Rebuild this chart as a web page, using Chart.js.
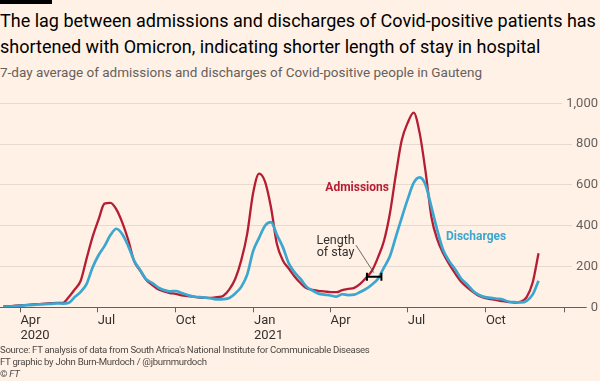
<!DOCTYPE html>
<html>
<head>
<meta charset="utf-8">
<script src="https://cdn.jsdelivr.net/npm/chart.js@4.4.1/dist/chart.umd.min.js"></script>
<style>
  html, body { margin: 0; padding: 0; background: #fff1e5; }
  body { width: 600px; height: 381px; position: relative; overflow: hidden; font-family: Roboto, sans-serif; }
  #bar { position: absolute; left: 0; top: 0; width: 52px; height: 4px; background: #000; }
  #title { position: absolute; left: 0; top: 8px; font-size: 18px; line-height: 26px; color: #000; white-space: nowrap; }
  #subtitle { position: absolute; left: 0; top: 64px; font-size: 13.5px; line-height: 16px; color: #66605c; white-space: nowrap; }
  #source { position: absolute; left: 0; top: 344px; font-size: 9.6px; letter-spacing: -0.3px; line-height: 12px; color: #4d4845; white-space: nowrap; }
  #chart { position: absolute; left: 0; top: 0; }
</style>
</head>
<body>
<div id="bar"></div>
<div id="title">The lag between admissions and discharges of Covid-positive patients has<br>shortened with Omicron, indicating shorter length of stay in hospital</div>
<div id="subtitle">7-day average of admissions and discharges of Covid-positive people in Gauteng</div>
<canvas id="chart" width="600" height="381"></canvas>
<div id="source">Source: FT analysis of data from South Africa's National Institute for Communicable Diseases<br>FT graphic by John Burn-Murdoch / @jburnmurdoch<br>© <i>FT</i></div>

<script>
// weekly readings
const weeks = [
  "2020-03-12","2020-03-19","2020-03-26","2020-04-02","2020-04-09","2020-04-16","2020-04-23","2020-04-30",
  "2020-05-07","2020-05-14","2020-05-21","2020-05-28","2020-06-04","2020-06-11","2020-06-18","2020-06-25",
  "2020-07-02","2020-07-09","2020-07-16","2020-07-23","2020-07-30","2020-08-06","2020-08-13","2020-08-20",
  "2020-08-27","2020-09-03","2020-09-10","2020-09-17","2020-09-24","2020-10-01","2020-10-08","2020-10-15",
  "2020-10-22","2020-10-29","2020-11-05","2020-11-12","2020-11-19","2020-11-26","2020-12-03","2020-12-10",
  "2020-12-17","2020-12-24","2020-12-31","2021-01-07","2021-01-14","2021-01-21","2021-01-28","2021-02-04",
  "2021-02-11","2021-02-18","2021-02-25","2021-03-04","2021-03-11","2021-03-18","2021-03-25","2021-04-01",
  "2021-04-08","2021-04-15","2021-04-22","2021-04-29","2021-05-06","2021-05-13","2021-05-20","2021-05-27",
  "2021-06-03","2021-06-10","2021-06-17","2021-06-24","2021-07-01","2021-07-08","2021-07-15","2021-07-22",
  "2021-07-29","2021-08-05","2021-08-12","2021-08-19","2021-08-26","2021-09-02","2021-09-09","2021-09-16",
  "2021-09-23","2021-09-30","2021-10-07","2021-10-14","2021-10-21","2021-10-28","2021-11-04","2021-11-11",
  "2021-11-18","2021-11-25","2021-12-02"
];
const admissions = [
  5, 6, 8, 10, 12, 14, 16, 18,
  20, 22, 22, 50, 88, 130, 240, 345,
  430, 508, 512, 480, 415, 330, 225, 180,
  135, 110, 88, 78, 70, 66, 58, 55,
  52, 48, 46, 46, 50, 57, 88, 140,
  230, 360, 560, 655, 616, 490, 310, 230,
  190, 150, 118, 93, 85, 81, 78, 74,
  74, 84, 90, 95, 115, 145, 180, 245,
  325, 460, 650, 820, 905, 954, 855, 665,
  440, 330, 262, 210, 165, 125, 98, 75,
  55, 45, 40, 35, 30, 26, 23, 28,
  50, 120, 265
];
const discharges = [
  2, 4, 6, 8, 10, 12, 14, 16,
  17, 19, 18, 22, 50, 76, 115, 195,
  255, 300, 354, 385, 358, 300, 228, 183,
  138, 120, 98, 85, 78, 80, 70, 60,
  52, 50, 47, 43, 39, 40, 46, 68,
  100, 160, 275, 340, 400, 418, 355, 295,
  215, 170, 138, 100, 82, 67, 62, 58,
  52, 64, 60, 62, 75, 90, 112, 140,
  195, 250, 345, 440, 530, 610, 637, 600,
  490, 375, 278, 225, 185, 140, 112, 80,
  60, 50, 46, 42, 38, 27, 25, 24,
  32, 62, 130
];
const tickDates = ["2020-04-01","2020-07-01","2020-10-01","2021-01-01","2021-04-01","2021-07-01","2021-10-01","2022-01-01"];
const tickLabels = [["Apr","2020"],"Jul","Oct",["Jan","2021"],"Apr","Jul","Oct",""];
const yTicks = [0, 200, 400, 600, 800, 1000];

const origin = Date.parse("2020-04-01");
const day = s => (Date.parse(s) - origin) / 864e5;

const RED = "#b51d33", BLUE = "#3ba6cf", BG = "#fff1e5";

// annotation anchors, in data units
const notes = {
  admissions: { date: "2021-03-26", value: 585 },
  discharges: { date: "2021-08-15", value: 346 },
  stay1: { date: "2021-04-07", value: 326 },
  stay2: { date: "2021-04-07", value: 265 },
  leaderFrom: { date: "2021-05-01", value: 305 },
  leaderTo: { date: "2021-05-22", value: 170 },
  bracketFrom: { date: "2021-05-14", value: 150 },
  bracketTo: { date: "2021-05-31", value: 150 }
};

const annotate = {
  id: "annotate",
  afterDatasetsDraw(chart) {
    const { ctx, scales: { x, y } } = chart;
    const px = p => [x.getPixelForValue(day(p.date)), y.getPixelForValue(p.value)];
    ctx.save();
    ctx.textBaseline = "middle";
    ctx.font = "bold 12px Roboto";
    ctx.textAlign = "left";
    let [ax, ay] = px(notes.admissions);
    ctx.fillStyle = RED; ctx.fillText("Admissions", ax, ay);
    let [dx, dy] = px(notes.discharges);
    ctx.fillStyle = BLUE; ctx.fillText("Discharges", dx, dy);
    ctx.font = "12.5px Roboto";
    ctx.fillStyle = "#33302e";
    ctx.textAlign = "center";
    let [s1x, s1y] = px(notes.stay1);
    ctx.fillText("Length", s1x, s1y);
    let [s2x, s2y] = px(notes.stay2);
    ctx.fillText("of stay", s2x, s2y);
    // leader line
    let [lx1, ly1] = px(notes.leaderFrom), [lx2, ly2] = px(notes.leaderTo);
    ctx.strokeStyle = "#4d4845"; ctx.lineWidth = 0.8;
    ctx.beginPath(); ctx.moveTo(lx1, ly1); ctx.lineTo(lx2, ly2); ctx.stroke();
    // bracket
    let [bx1, by] = px(notes.bracketFrom), [bx2] = px(notes.bracketTo);
    ctx.strokeStyle = "#000"; ctx.lineWidth = 2;
    ctx.beginPath();
    ctx.moveTo(bx1, by); ctx.lineTo(bx2, by);
    ctx.moveTo(bx1, by - 4); ctx.lineTo(bx1, by + 4);
    ctx.moveTo(bx2, by - 4); ctx.lineTo(bx2, by + 4);
    ctx.stroke();
    ctx.restore();
  }
};

const tickFont = { family: "Roboto", size: 13, lineHeight: 15 / 13 };

new Chart(document.getElementById("chart").getContext("2d"), {
  type: "line",
  data: {
    datasets: [
      {
        label: "Admissions",
        data: weeks.map((w, i) => ({ x: day(w), y: admissions[i] })),
        borderColor: RED,
        borderWidth: 2.3,
        order: 2
      },
      {
        label: "Discharges",
        data: weeks.map((w, i) => ({ x: day(w), y: discharges[i] })),
        borderColor: BLUE,
        borderWidth: 2.7,
        order: 1
      }
    ]
  },
  options: {
    responsive: false,
    animation: false,
    layout: { padding: { top: 103.3, right: 2, bottom: 37.7, left: 0 } },
    elements: {
      point: { radius: 0 },
      line: { cubicInterpolationMode: "monotone", fill: false }
    },
    plugins: { legend: { display: false }, tooltip: { enabled: false } },
    scales: {
      x: {
        type: "linear",
        min: day("2020-03-08"),
        max: day("2022-02-10"),
        afterBuildTicks: s => { s.ticks = tickDates.map(d => ({ value: day(d) })); },
        afterFit: s => { s.height = 36; },
        ticks: {
          align: "start",
          padding: 1,
          maxRotation: 0,
          autoSkip: false,
          color: "#33302e",
          font: tickFont,
          callback: (v, i) => tickLabels[i]
        },
        grid: { drawOnChartArea: false, drawTicks: true, tickLength: 5, tickColor: "#66605c" },
        border: { display: false }
      },
      y: {
        position: "right",
        min: 0,
        max: 1000,
        afterBuildTicks: s => { s.ticks = yTicks.map(v => ({ value: v })); },
        ticks: {
          mirror: true,
          padding: 0,
          color: "#66605c",
          font: tickFont,
          callback: v => v.toLocaleString("en-US"),
          showLabelBackdrop: true,
          backdropColor: BG,
          backdropPadding: { left: 4, right: 0, top: 0, bottom: 0 }
        },
        grid: {
          drawTicks: false,
          color: c => (c.tick && c.tick.value === 0 ? "#66605c" : "#e6d9ce")
        },
        border: { display: false }
      }
    }
  },
  plugins: [annotate]
});
</script>
</body>
</html>
